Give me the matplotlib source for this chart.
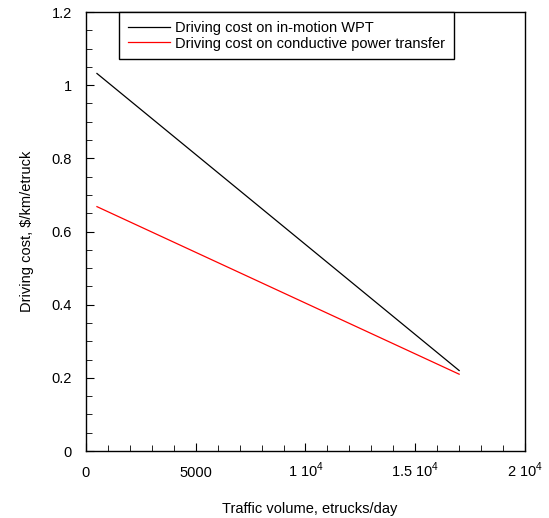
import numpy as np
import matplotlib.pyplot as plt
from matplotlib.ticker import MultipleLocator, FixedLocator

plt.rcParams['font.family'] = ['Liberation Sans', 'DejaVu Sans']
plt.rcParams['mathtext.fontset'] = 'custom'
plt.rcParams['mathtext.rm'] = 'Liberation Sans'

# traffic volume (etrucks/day)
traffic = [500, 17000]
# driving cost ($/km/etruck)
cost_wpt = [1.032, 0.22]
cost_conductive = [0.668, 0.21]

xtick_vals = [0, 5000, 10000, 15000, 20000]
xtick_labels = ['0', '5000', r'1 10$^\mathrm{4}$', r'1.5 10$^\mathrm{4}$', r'2 10$^\mathrm{4}$']
ytick_vals = [0, 0.2, 0.4, 0.6, 0.8, 1.0, 1.2]
ytick_labels = ['0', '0.2', '0.4', '0.6', '0.8', '1', '1.2']

fig = plt.figure(figsize=(5.49, 5.18), dpi=100)
ax = fig.add_axes([0.1566, 0.1293, 0.7997, 0.8475])

ax.plot(traffic, cost_wpt, color='black', lw=0.9, label='Driving cost on in-motion WPT')
ax.plot(traffic, cost_conductive, color='red', lw=0.9, label='Driving cost on conductive power transfer')

ax.set_xlim(0, 20000)
ax.set_ylim(0, 1.2)
ax.xaxis.set_major_locator(FixedLocator(xtick_vals))
ax.set_xticklabels(xtick_labels)
ax.xaxis.set_minor_locator(MultipleLocator(1000))
ax.yaxis.set_major_locator(FixedLocator(ytick_vals))
ax.set_yticklabels(ytick_labels)
ax.yaxis.set_minor_locator(MultipleLocator(0.05))

ax.tick_params(which='both', direction='in', top=False, right=False, labelsize=10.5)
ax.tick_params(axis='x', which='major', length=6, pad=19)
ax.tick_params(axis='y', which='major', length=6, pad=10)
ax.tick_params(which='minor', length=4)
for lbl in ax.get_xticklabels():
    lbl.set_verticalalignment('baseline')
for s in ax.spines.values():
    s.set_linewidth(1.0)

ax.set_xlabel('Traffic volume, etrucks/day', fontsize=10.5)
ax.xaxis.set_label_coords(0.51, -0.116)
ax.set_ylabel('Driving cost, $/km/etruck', fontsize=10.5, labelpad=13)

leg = ax.legend(loc='upper left', bbox_to_anchor=(0.075, 1.0), fontsize=10.5,
                frameon=True, fancybox=False, edgecolor='black', framealpha=1,
                handlelength=2.9, handletextpad=0.35, borderpad=0.6,
                labelspacing=0.12, borderaxespad=0)
leg.get_frame().set_linewidth(1.0)

plt.savefig('out.png', dpi=100)
